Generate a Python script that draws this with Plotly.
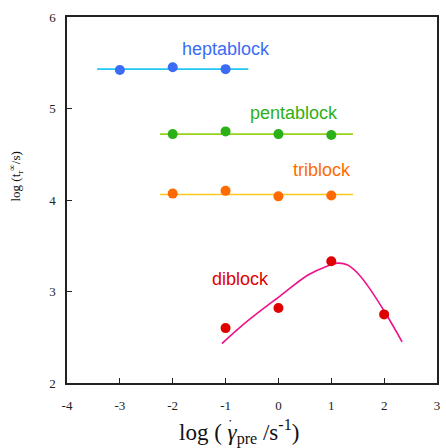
import plotly.graph_objects as go

# Data
x_hepta = [-3, -2, -1]
y_hepta = [5.42, 5.45, 5.43]
hepta_fit_x = [-3.43, -0.57]
hepta_fit_y = [5.43, 5.43]

x_penta = [-2, -1, 0, 1]
y_penta = [4.72, 4.75, 4.72, 4.71]
penta_fit_x = [-2.24, 1.41]
penta_fit_y = [4.72, 4.72]

x_tri = [-2, -1, 0, 1]
y_tri = [4.07, 4.10, 4.04, 4.05]
tri_fit_x = [-2.24, 1.41]
tri_fit_y = [4.06, 4.06]

x_di = [-1, 0, 1, 2]
y_di = [2.60, 2.82, 3.33, 2.75]
di_fit_x = [-1.07, -0.60, 0.03, 0.56, 0.93, 1.12, 1.31, 1.50, 1.68, 2.03, 2.34]
di_fit_y = [2.43, 2.67, 2.95, 3.18, 3.28, 3.31, 3.29, 3.20, 3.07, 2.76, 2.45]

x_ticks = [-4, -3, -2, -1, 0, 1, 2, 3]
y_ticks = [2, 3, 4, 5, 6]

series = [
    ("heptablock", x_hepta, y_hepta, hepta_fit_x, hepta_fit_y, "#3a6cf4", "#22c8f4", -1.0, 5.65),
    ("pentablock", x_penta, y_penta, penta_fit_x, penta_fit_y, "#2cb018", "#96d21c", 0.29, 4.95),
    ("triblock", x_tri, y_tri, tri_fit_x, tri_fit_y, "#ff6a00", "#ffc81e", 0.82, 4.33),
    ("diblock", x_di, y_di, di_fit_x, di_fit_y, "#e00000", "#ee1188", -0.72, 3.14),
]

fig = go.Figure()
annotations = []
for name, xs, ys, fx, fy, mc, lc, lx, ly in series:
    fig.add_trace(go.Scatter(x=fx, y=fy, mode="lines", line=dict(color=lc, width=1.6),
                             line_shape="spline" if len(fx) > 2 else "linear",
                             showlegend=False, hoverinfo="skip"))
    fig.add_trace(go.Scatter(x=xs, y=ys, mode="markers", marker=dict(color=mc, size=10),
                             showlegend=False, name=name))
    annotations.append(dict(x=lx, y=ly, xref="x", yref="y", text=name, showarrow=False,
                            font=dict(family="Liberation Sans, Arial", size=18, color=mc)))

annotations.append(dict(x=0.464, y=-0.134, xref="paper", yref="paper", xanchor="center", yanchor="middle",
                        text="log ( <i>γ</i><sub>pre</sub> /s<sup>-1</sup>)", showarrow=False,
                        font=dict(family="Liberation Serif, Times New Roman", size=23, color="#111")))
annotations.append(dict(x=0.442, y=-0.104, xref="paper", yref="paper", xanchor="center", yanchor="middle",
                        text="•", showarrow=False,
                        font=dict(family="Liberation Serif, Times New Roman", size=7, color="#111")))
annotations.append(dict(x=-0.139, y=0.563, xref="paper", yref="paper", xanchor="center", yanchor="middle",
                        text="log (t<sub>r</sub><sup>∞</sup>/s)", showarrow=False, textangle=-90,
                        font=dict(family="Liberation Serif, Times New Roman", size=13, color="#111")))

axis_common = dict(showgrid=False, zeroline=False, showline=True, linecolor="#222", linewidth=1.5,
                   mirror=True, ticks="inside", ticklen=5, tickcolor="#222", tickwidth=1,
                   tickfont=dict(family="Liberation Serif, Times New Roman", size=13, color="#222"))

fig.update_layout(
    width=446, height=448,
    margin=dict(l=67, r=6, t=17, b=65),
    plot_bgcolor="white", paper_bgcolor="white",
    xaxis=dict(range=[-4, 3], tickvals=x_ticks, ticktext=[str(v) for v in x_ticks],
               ticklabelstandoff=10, **axis_common),
    yaxis=dict(range=[2, 6], tickvals=y_ticks, ticktext=[str(v) for v in y_ticks],
               ticklabelstandoff=7, **axis_common),
    annotations=annotations,
)

fig.write_html("out.html", config={"displayModeBar": False},
               post_script="document.body.style.margin='0';document.body.style.overflow='hidden';")
